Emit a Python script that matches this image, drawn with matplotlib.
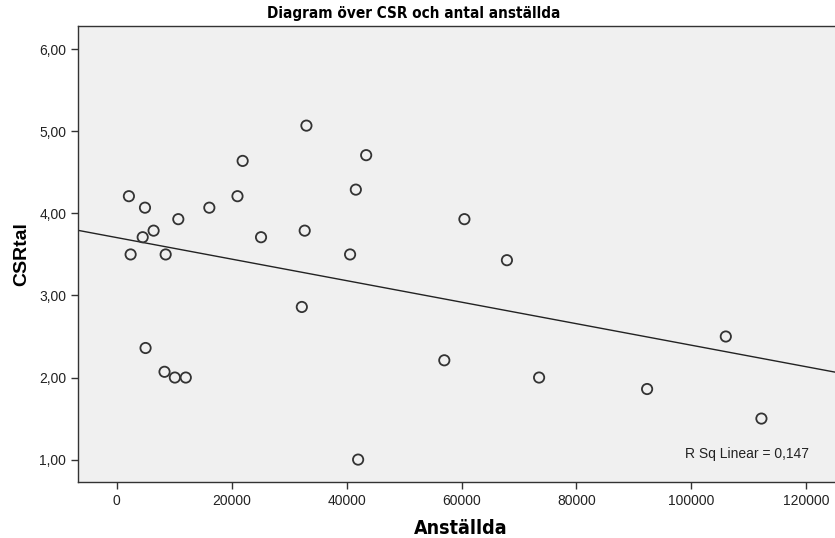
import numpy as np
import matplotlib
matplotlib.use('Agg')
import matplotlib.pyplot as plt
from matplotlib.ticker import FuncFormatter

# data
anstallda = [2100, 4900, 10700, 6400, 4500, 2400, 8500, 16100, 21000, 21900,
             33000, 25100, 32700, 40600, 41600, 43400, 5000, 8300, 10100, 12000,
             32200, 42000, 57000, 60500, 67900, 73500, 92300, 106000, 112200]
csrtal = [4.21, 4.07, 3.93, 3.79, 3.71, 3.50, 3.50, 4.07, 4.21, 4.64,
          5.07, 3.71, 3.79, 3.50, 4.29, 4.71, 2.36, 2.07, 2.00, 2.00,
          2.86, 1.00, 2.21, 3.93, 3.43, 2.00, 1.86, 2.50, 1.50]
x_ticks = [0, 20000, 40000, 60000, 80000, 100000, 120000]
y_ticks = [1, 2, 3, 4, 5, 6]
r_sq = 0.147

plt.rcParams['font.family'] = ['Liberation Sans', 'DejaVu Sans']

fig = plt.figure(figsize=(8.35, 5.38), dpi=100)
# axes run a little past the right edge, as in the reference
ax = fig.add_axes([78 / 835, 1 - 482 / 538, 1.01 - 78 / 835, (482 - 26) / 538])
ax.set_facecolor('#f0f0f0')

x = np.array(anstallda)
y = np.array(csrtal)
ax.scatter(x, y, s=55, facecolors='none', edgecolors='#333333', linewidths=1.3, zorder=3)

xlim = (-6760, 126460)
k, m = np.polyfit(x, y, 1)
xs = np.array(xlim)
ax.plot(xs, k * xs + m, color='#222222', lw=1.0, zorder=2)

ax.set_xlim(*xlim)
ax.set_ylim(0.727, 6.284)
ax.set_xticks(x_ticks)
ax.set_yticks(y_ticks)
ax.yaxis.set_major_formatter(FuncFormatter(lambda v, p: f'{v:.2f}'.replace('.', ',')))
ax.tick_params(labelsize=10, length=5, width=1, color='#333333', labelcolor='#222222')

for s in ax.spines.values():
    s.set_color('#333333')
    s.set_linewidth(1.0)

ax.set_xlabel('Anställda', fontsize=14, fontweight='bold', family='DejaVu Sans',
              fontstretch='condensed', labelpad=8)
ax.set_ylabel('CSRtal', fontsize=14, fontweight='bold', labelpad=6)

fig.text(0.495, 0.975, 'Diagram över CSR och antal anställda', ha='center', va='center',
         fontsize=11, fontweight='bold', family='DejaVu Sans', fontstretch='condensed')

ax.text(0.955, 0.062, 'R Sq Linear = ' + f'{r_sq:.3f}'.replace('.', ','),
        transform=ax.transAxes, ha='right', va='center', fontsize=10, color='#222222')

fig.savefig('out.png', dpi=100)
